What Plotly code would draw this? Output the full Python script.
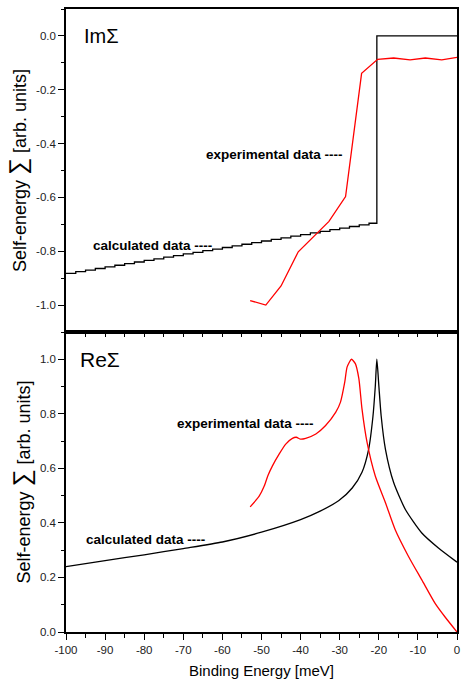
import plotly.graph_objects as go

# ---------------- data ----------------
# Im Sigma, calculated (staircase)
im_calc_x = [-100, -97.5, -95, -92.5, -90, -87.5, -85, -82.5, -80, -77.5, -75, -72.5,
             -70, -67.5, -65, -62.5, -60, -57.5, -55, -52.5, -50, -47.5, -45, -42.5,
             -40, -37.5, -35, -32.5, -30, -27.5, -25, -22.5, -20.5, 0]
im_calc_y = [-0.882, -0.876, -0.870, -0.864, -0.858, -0.852, -0.846, -0.840, -0.834,
             -0.828, -0.822, -0.816, -0.810, -0.804, -0.798, -0.792, -0.786, -0.780,
             -0.774, -0.768, -0.762, -0.756, -0.750, -0.744, -0.738, -0.732, -0.726,
             -0.720, -0.714, -0.708, -0.702, -0.696, 0.0, 0.0]

# Im Sigma, experimental
im_exp_x = [-52.9, -48.9, -45.0, -40.6, -32.75, -28.5, -24.4, -20.3, -16.2, -12.0, -8.1, -3.9, 0.0]
im_exp_y = [-0.983, -1.0, -0.929, -0.802, -0.689, -0.597, -0.139, -0.087, -0.082, -0.089, -0.082, -0.089, -0.080]

# Re Sigma, calculated
re_calc_x = [-100, -90, -80, -70, -60, -50, -40, -35, -30.2, -26.8, -24.3, -22.6, -21.5,
             -20.9, -20.5, -20.0, -19.4, -18.3, -16.2, -13.2, -9.0, -4.75, 0.0]
re_calc_y = [0.240, 0.262, 0.283, 0.306, 0.330, 0.366, 0.412, 0.443, 0.482, 0.528, 0.586,
             0.670, 0.790, 0.900, 1.0, 0.905, 0.793, 0.670, 0.548, 0.449, 0.363, 0.308, 0.256]

# Re Sigma, experimental
re_exp_x = [-52.9, -50.6, -49.3, -48.4, -47.2, -45.5, -43.8, -42.1, -41.1, -40.0, -38.7,
            -36.1, -33.6, -31.0, -29.8, -28.7, -28.1, -27.0, -26.0, -25.1, -24.3, -23.0,
            -20.9, -18.3, -15.8, -12.4, -9.0, -5.6, -3.05, 0.0]
re_exp_y = [0.459, 0.498, 0.535, 0.572, 0.609, 0.652, 0.689, 0.710, 0.714, 0.707, 0.710,
            0.726, 0.757, 0.806, 0.843, 0.917, 0.972, 1.0, 0.984, 0.929, 0.818, 0.695,
            0.572, 0.474, 0.375, 0.277, 0.191, 0.105, 0.055, 0.0]

x_ticks = [-100, -90, -80, -70, -60, -50, -40, -30, -20, -10, 0]
im_ticks = [0.0, -0.2, -0.4, -0.6, -0.8, -1.0]
re_ticks = [0.0, 0.2, 0.4, 0.6, 0.8, 1.0]

# ---------------- figure ----------------
FONT = "Liberation Sans, Arial, sans-serif"
fig = go.Figure()

fig.add_trace(go.Scatter(x=im_calc_x, y=im_calc_y, mode="lines", line_shape="hv",
                         line=dict(color="black", width=1.3), xaxis="x", yaxis="y",
                         showlegend=False, hoverinfo="skip"))
fig.add_trace(go.Scatter(x=im_exp_x, y=im_exp_y, mode="lines",
                         line=dict(color="red", width=1.3), xaxis="x", yaxis="y",
                         showlegend=False, hoverinfo="skip"))
fig.add_trace(go.Scatter(x=re_calc_x, y=re_calc_y, mode="lines", line_shape="spline",
                         line=dict(color="black", width=1.3, smoothing=0.6), xaxis="x2", yaxis="y2",
                         showlegend=False, hoverinfo="skip"))
fig.add_trace(go.Scatter(x=re_exp_x, y=re_exp_y, mode="lines", line_shape="spline",
                         line=dict(color="red", width=1.3, smoothing=0.6), xaxis="x2", yaxis="y2",
                         showlegend=False, hoverinfo="skip"))

dom_split = 300 / 623.0
ytitle = 'Self-energy <span style="font-size:24px">∑</span> [arb. units]'

axis_common = dict(showline=True, linecolor="black", linewidth=1.5, mirror=True,
                   showgrid=False, zeroline=False,
                   tickfont=dict(family=FONT, size=11.5, color="#222"))

fig.update_layout(
    width=461, height=682,
    margin=dict(l=66, r=2, t=9, b=50),
    paper_bgcolor="white", plot_bgcolor="white",
    font=dict(family=FONT, color="black"),
    xaxis=dict(domain=[0, 1], anchor="y", range=[-100, 0], showticklabels=False,
               ticks="", **axis_common),
    yaxis=dict(domain=[dom_split, 1], anchor="x", range=[-1.1, 0.1],
               tickvals=im_ticks, ticktext=["%.1f" % v for v in im_ticks],
               ticks="outside", ticklen=6, tickwidth=1.2, tickcolor="black",
               minor=dict(dtick=0.1, ticks="outside", ticklen=3.5, tickwidth=1.2, tickcolor="black"),
               title=dict(text=ytitle, font=dict(family=FONT, size=18), standoff=5),
               **axis_common),
    xaxis2=dict(domain=[0, 1], anchor="y2", range=[-100, 0],
                tickvals=x_ticks, ticktext=[str(v) for v in x_ticks],
                ticks="outside", ticklen=6, tickwidth=1.2, tickcolor="black",
                minor=dict(dtick=5, ticks="outside", ticklen=4, tickwidth=1.2, tickcolor="black"),
                title=dict(text="Binding Energy [meV]", font=dict(family=FONT, size=15), standoff=11),
                **axis_common),
    xaxis3=dict(overlaying="x2", anchor="y2", side="top", range=[-100, 0],
                dtick=5, tick0=0, ticks="inside", ticklen=4.5, tickwidth=1.2, tickcolor="black",
                showticklabels=False, showgrid=False, zeroline=False, showline=False),
    yaxis2=dict(domain=[0, dom_split], anchor="x2", range=[0, 1.1],
                tickvals=re_ticks, ticktext=["%.1f" % v for v in re_ticks],
                ticks="outside", ticklen=6, tickwidth=1.2, tickcolor="black",
                minor=dict(dtick=0.1, ticks="outside", ticklen=3.5, tickwidth=1.2, tickcolor="black"),
                title=dict(text=ytitle, font=dict(family=FONT, size=18), standoff=5),
                **axis_common),
)

# invisible helper trace so the inner tick axis is drawn
fig.add_trace(go.Scatter(x=re_calc_x, y=re_calc_y, mode="none", xaxis="x3", yaxis="y2",
                         showlegend=False, hoverinfo="skip"))

ann_font = dict(family=FONT, size=13.5, color="black")
fig.add_annotation(text="ImΣ", x=-96, y=0.0, xref="x", yref="y", xanchor="left",
                   yanchor="middle", showarrow=False,
                   font=dict(family=FONT, size=20, color="black"))
fig.add_annotation(text="ReΣ", x=-97, y=1.0, xref="x2", yref="y2", xanchor="left",
                   yanchor="middle", showarrow=False,
                   font=dict(family=FONT, size=21, color="black"))
fig.add_annotation(text="<b>experimental data ----</b>", x=-64.8, y=-0.439, xref="x", yref="y",
                   xanchor="left", yanchor="middle", showarrow=False, font=ann_font)
fig.add_annotation(text="<b>calculated data ----</b>", x=-93.6, y=-0.779, xref="x", yref="y",
                   xanchor="left", yanchor="middle", showarrow=False, font=ann_font)
fig.add_annotation(text="<b>experimental data ----</b>", x=-72.0, y=0.763, xref="x2", yref="y2",
                   xanchor="left", yanchor="middle", showarrow=False, font=ann_font)
fig.add_annotation(text="<b>calculated data ----</b>", x=-95.3, y=0.338, xref="x2", yref="y2",
                   xanchor="left", yanchor="middle", showarrow=False, font=ann_font)

fig.write_html("out.html",
               config={"displayModeBar": False},
               post_script="document.body.style.margin='0px';"
                           "document.body.style.overflow='hidden';")
